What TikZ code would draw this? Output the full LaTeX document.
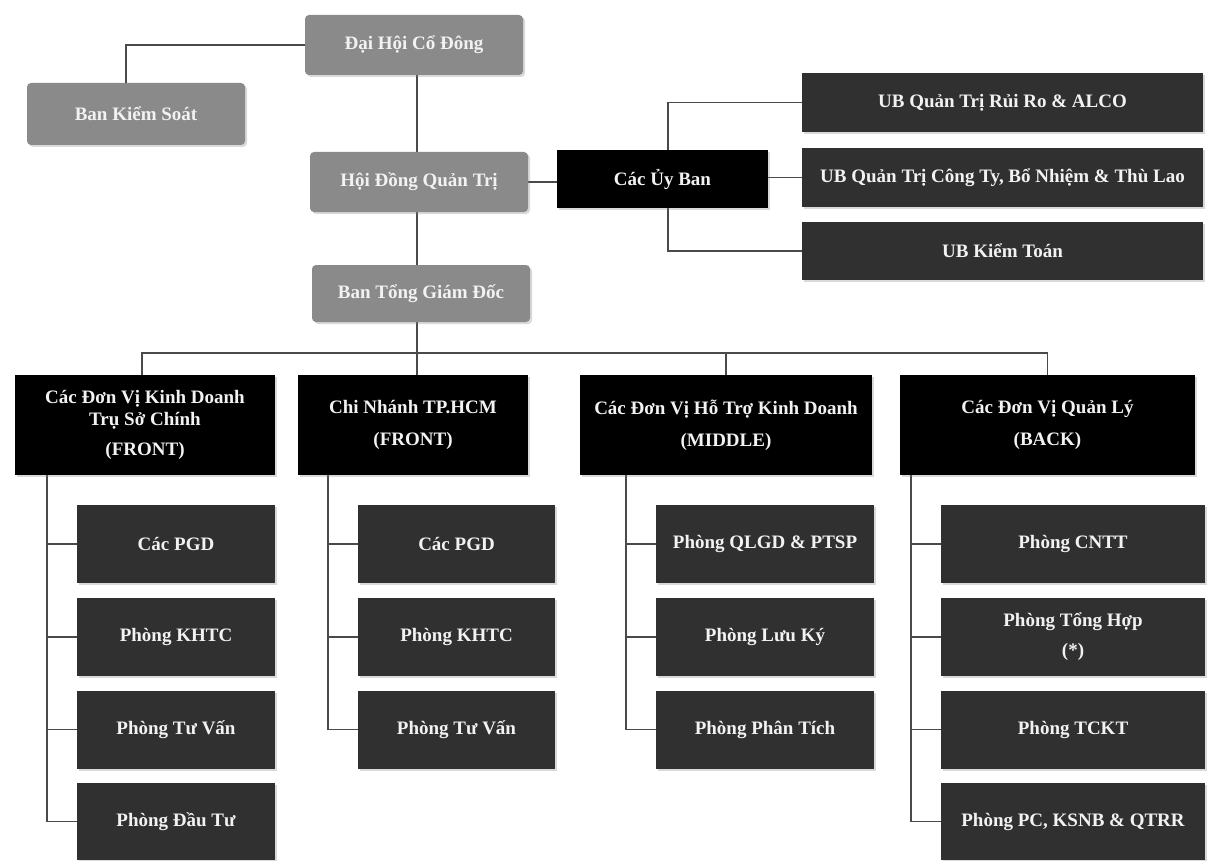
\documentclass[tikz,border=0pt]{standalone}
\usepackage{fontspec}
\setmainfont{Liberation Serif}
\usetikzlibrary{backgrounds,shadows}
\definecolor{boxgray}{HTML}{8A8A8A}
\definecolor{boxdark}{HTML}{303030}
\definecolor{linecol}{HTML}{4A4A4A}
\definecolor{txtlight}{HTML}{F2F2F2}
\tikzset{
  base/.style={inner sep=0pt, align=center, text=txtlight,
    font=\fontsize{19}{22}\selectfont\bfseries,
    drop shadow={shadow xshift=2pt, shadow yshift=-2pt, opacity=0.3, fill=gray}},
  graybox/.style={base, fill=boxgray, rounded corners=4pt},
  blackbox/.style={base, fill=black},
  darkbox/.style={base, fill=boxdark},
  conn/.style={draw=linecol, line width=1.3pt}
}
\begin{document}
\begin{tikzpicture}[x=1pt,y=-1pt]
\useasboundingbox (0,0) rectangle (1209,861);
% top level
\node[graybox, minimum width=218pt, minimum height=60pt] (dh) at (414,45) {Đại Hội Cổ Đông};
\node[graybox, minimum width=218pt, minimum height=62pt] (bks) at (136,114) {Ban Kiểm Soát};
\node[graybox, minimum width=218pt, minimum height=60pt] (hdqt) at (419,182) {Hội Đồng Quản Trị};
\node[graybox, minimum width=218pt, minimum height=57pt] (btgd) at (421,293.5) {Ban Tổng Giám Đốc};
\node[blackbox, minimum width=211pt, minimum height=58pt] (uyban) at (662.5,179) {Các Ủy Ban};
\node[darkbox, minimum width=401pt, minimum height=59pt] (ub1) at (1002.5,102.5) {UB Quản Trị Rủi Ro \& ALCO};
\node[darkbox, minimum width=401pt, minimum height=59pt] (ub2) at (1002.5,177.5) {UB Quản Trị Công Ty, Bổ Nhiệm \& Thù Lao};
\node[darkbox, minimum width=401pt, minimum height=58pt] (ub3) at (1002.5,251) {UB Kiểm Toán};
% level 2
\node[blackbox, minimum width=260pt, minimum height=100pt] (b1) at (145,425) {Các Đơn Vị Kinh Doanh\\[0pt]Trụ Sở Chính\\[8pt](FRONT)};
\node[blackbox, minimum width=230pt, minimum height=100pt] (b2) at (413,425) {Chi Nhánh TP.HCM\\[10pt](FRONT)};
\node[blackbox, minimum width=292pt, minimum height=100pt] (b3) at (726,425) {Các Đơn Vị Hỗ Trợ Kinh Doanh\\[10pt](MIDDLE)};
\node[blackbox, minimum width=295pt, minimum height=100pt] (b4) at (1047.5,425) {Các Đơn Vị Quản Lý\\[10pt](BACK)};
% children col 1
\node[darkbox, minimum width=198pt, minimum height=78pt] (c11) at (176,544) {Các PGD};
\node[darkbox, minimum width=198pt, minimum height=78pt] (c12) at (176,637) {Phòng KHTC};
\node[darkbox, minimum width=198pt, minimum height=78pt] (c13) at (176,729.5) {Phòng Tư Vấn};
\node[darkbox, minimum width=198pt, minimum height=77pt] (c14) at (176,821.5) {Phòng Đầu Tư};
% col 2
\node[darkbox, minimum width=197pt, minimum height=78pt] (c21) at (456.5,544) {Các PGD};
\node[darkbox, minimum width=197pt, minimum height=78pt] (c22) at (456.5,637) {Phòng KHTC};
\node[darkbox, minimum width=197pt, minimum height=78pt] (c23) at (456.5,729.5) {Phòng Tư Vấn};
% col 3
\node[darkbox, minimum width=218pt, minimum height=78pt] (c31) at (765,544) {Phòng QLGD \& PTSP};
\node[darkbox, minimum width=218pt, minimum height=78pt] (c32) at (765,637) {Phòng Lưu Ký};
\node[darkbox, minimum width=218pt, minimum height=78pt] (c33) at (765,729.5) {Phòng Phân Tích};
% col 4
\node[darkbox, minimum width=264pt, minimum height=78pt] (c41) at (1073,544) {Phòng CNTT};
\node[darkbox, minimum width=264pt, minimum height=78pt] (c42) at (1073,637) {Phòng Tổng Hợp\\[8pt](*)};
\node[darkbox, minimum width=264pt, minimum height=78pt] (c43) at (1073,729.5) {Phòng TCKT};
\node[darkbox, minimum width=264pt, minimum height=77pt] (c44) at (1073,821.5) {Phòng PC, KSNB \& QTRR};
% helper coordinates
\coordinate (vx) at (417,0);
\coordinate (ux) at (668,0);
\coordinate (bus) at (0,353);
\coordinate (t1) at (47,0);
\coordinate (t2) at (328,0);
\coordinate (t3) at (626,0);
\coordinate (t4) at (911,0);
\begin{scope}[on background layer]
  \draw[conn] (dh.west) -| ([xshift=-10pt]bks.north);
  \draw[conn] (dh.south -| vx) -- (hdqt.north -| vx);
  \draw[conn] (hdqt.south -| vx) -- (btgd.north -| vx);
  \draw[conn] (hdqt.east) -- (hdqt.east -| uyban.west);
  \draw[conn] (ub1.west) -- (ub1.west -| ux) -- (ub3.west -| ux) -- (ub3.west);
  \draw[conn] (uyban.east |- ub2.west) -- (ub2.west);
  \draw[conn] (btgd.south -| vx) -- (b2.north -| vx);
  \draw[conn] ([xshift=-3pt]b1.north) -- ([xshift=-3pt]b1.north |- bus) -- (b4.north |- bus) -- (b4.north);
  \draw[conn] (b3.north) -- (b3.north |- bus);
  \draw[conn] (b1.south -| t1) -- (c14.west -| t1) -- (c14.west);
  \foreach \c in {c11,c12,c13} \draw[conn] (\c.west -| t1) -- (\c.west);
  \draw[conn] (b2.south -| t2) -- (c23.west -| t2) -- (c23.west);
  \foreach \c in {c21,c22} \draw[conn] (\c.west -| t2) -- (\c.west);
  \draw[conn] (b3.south -| t3) -- (c33.west -| t3) -- (c33.west);
  \foreach \c in {c31,c32} \draw[conn] (\c.west -| t3) -- (\c.west);
  \draw[conn] (b4.south -| t4) -- (c44.west -| t4) -- (c44.west);
  \foreach \c in {c41,c42,c43} \draw[conn] (\c.west -| t4) -- (\c.west);
\end{scope}
\end{tikzpicture}
\end{document}
